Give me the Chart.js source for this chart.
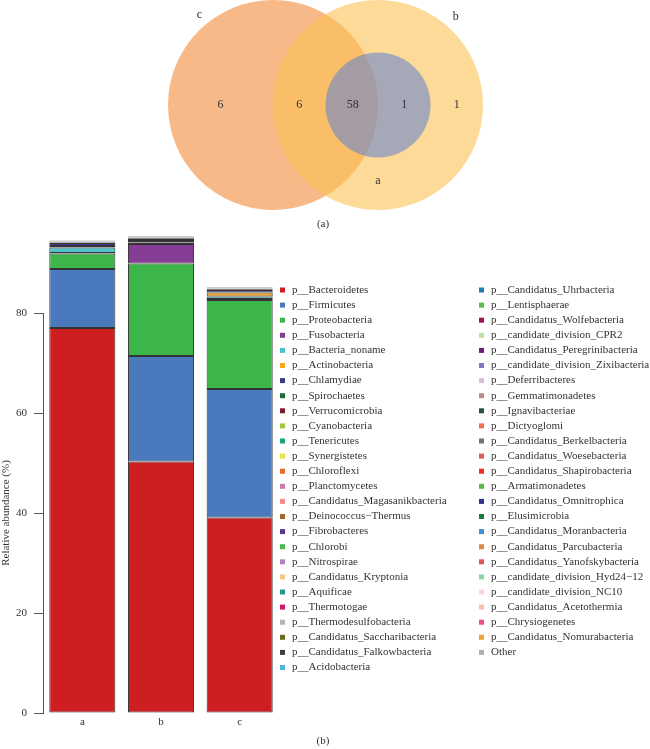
<!DOCTYPE html>
<html>
<head>
<meta charset="utf-8">
<script src="https://cdn.jsdelivr.net/npm/chart.js@4.4.0/dist/chart.umd.min.js"></script>
<style>
  html, body { margin: 0; padding: 0; background: #fff; }
  #wrap { position: relative; width: 650px; height: 749px; overflow: hidden; }
  #venn { position: absolute; left: 0; top: 0; }
  #bars { position: absolute; left: 0; top: 230px; }
  .cap { position: absolute; left: -2px; width: 650px; text-align: center;
         font: 11px "Liberation Serif", serif; color: #333; }
</style>
</head>
<body>
<div id="wrap">
  <canvas id="venn" width="650" height="232"></canvas>
  <canvas id="bars" width="650" height="519"></canvas>
  <div class="cap" style="top:217px">(a)</div>
  <div class="cap" style="top:734px">(b)</div>
</div>
<script>
// ---- Venn data (units = radius of the big circles) ----
const vennSets = ['c', 'b', 'a'];
const setX = [0, 1, 1];
const setY = [0, 0, 0];
const setR = [1, 1, 0.5];
const setLabelX = [-0.7, 1.74, 1.0];
const setLabelY = [0.86, 0.84, -0.72];
const regionCounts = [6, 6, 58, 1, 1];
const regionX = [-0.5, 0.25, 0.76, 1.25, 1.75];
const regionY = [0, 0, 0, 0, 0];
const vennFill = ['rgba(242,138,55,0.6)', 'rgba(252,193,83,0.6)', 'rgba(106,135,202,0.6)'];

// ---- Stacked bar data ----
const samples = ['a', 'b', 'c'];
const phyla = [
  'p__Bacteroidetes', 'p__Firmicutes', 'p__Proteobacteria', 'p__Fusobacteria',
  'p__Bacteria_noname', 'p__Actinobacteria', 'p__Chlamydiae', 'p__Spirochaetes',
  'p__Verrucomicrobia', 'p__Cyanobacteria', 'p__Tenericutes', 'p__Synergistetes',
  'p__Chloroflexi', 'p__Planctomycetes', 'p__Candidatus_Magasanikbacteria',
  'p__Deinococcus\u2212Thermus', 'p__Fibrobacteres', 'p__Chlorobi', 'p__Nitrospirae',
  'p__Candidatus_Kryptonia', 'p__Aquificae', 'p__Thermotogae', 'p__Thermodesulfobacteria',
  'p__Candidatus_Saccharibacteria', 'p__Candidatus_Falkowbacteria', 'p__Acidobacteria',
  'p__Candidatus_Uhrbacteria', 'p__Lentisphaerae', 'p__Candidatus_Wolfebacteria',
  'p__candidate_division_CPR2', 'p__Candidatus_Peregrinibacteria',
  'p__candidate_division_Zixibacteria', 'p__Deferribacteres', 'p__Gemmatimonadetes',
  'p__Ignavibacteriae', 'p__Dictyoglomi', 'p__Candidatus_Berkelbacteria',
  'p__Candidatus_Woesebacteria', 'p__Candidatus_Shapirobacteria', 'p__Armatimonadetes',
  'p__Candidatus_Omnitrophica', 'p__Elusimicrobia', 'p__Candidatus_Moranbacteria',
  'p__Candidatus_Parcubacteria', 'p__Candidatus_Yanofskybacteria',
  'p__candidate_division_Hyd24\u221212', 'p__candidate_division_NC10',
  'p__Candidatus_Acetothermia', 'p__Chrysiogenetes', 'p__Candidatus_Nomurabacteria', 'Other'
];
const phylumColors = [
  '#CE1E22', '#4A7ABD', '#3CB54A', '#863D96', '#4DC4CC', '#F7A823', '#3A3A91', '#1C6B35',
  '#7A1E2C', '#A3C93A', '#1FA27F', '#EDE33B', '#E4692A', '#C97BB0', '#F08B8B', '#A8672A',
  '#5C3596', '#4CB84F', '#B582C2', '#FBC58E', '#1E9A8C', '#D1156E', '#B5B5B5', '#6B6B1E',
  '#3D3D3D', '#4DB3E6',
  '#1F7DB8', '#5BBE46', '#9E1459', '#BDE0A0', '#6A1C7A', '#8278BF', '#D9BEDC', '#BC8A8A',
  '#2B4F4A', '#F46D4F', '#7A6E6E', '#D95F5F', '#EE3124', '#59B947', '#2E3192', '#1B7A3E',
  '#3F8FD2', '#DE8A45', '#E15759', '#8FD3A8', '#F6DAD0', '#F7BFB0', '#EC4F8A', '#F0A22E',
  '#B0B0B0'
];
const sampleA = [
  77.0, 11.8, 3.1, 0.1, 1.1, 0.3, 0.6, 0.1, 0.05, 0.03, 0.03, 0.02, 0.02, 0.02, 0.01, 0.01,
  0.01, 0.01, 0.01, 0.01, 0.01, 0.01, 0.01, 0.01, 0.01, 0.01,
  0.01, 0.01, 0.01, 0.01, 0.01, 0.01, 0.01, 0.01, 0.01, 0, 0, 0, 0, 0, 0, 0,
  0, 0, 0, 0, 0, 0, 0, 0, 0.02
];
const sampleB = [
  50.3, 21.1, 18.5, 3.9, 0.3, 0.3, 0.4, 0.15, 0.1, 0.03, 0.03, 0.02, 0.02, 0.02, 0.01, 0.01,
  0.01, 0.01, 0.01, 0.01, 0.01, 0.01, 0.01, 0.01, 0.01, 0.01,
  0.01, 0.01, 0.01, 0.01, 0.01, 0.01, 0.01, 0.01, 0.01, 0, 0, 0, 0, 0, 0, 0,
  0, 0, 0, 0, 0, 0, 0, 0, 0.02
];
const sampleC = [
  39.1, 25.7, 17.8, 0.2, 0.5, 0.8, 0.5, 0.15, 0.1, 0.04, 0.03, 0.02, 0.02, 0.02, 0.01, 0.01,
  0.01, 0.01, 0.01, 0.01, 0.01, 0.01, 0.01, 0.01, 0.01, 0.01,
  0.01, 0.01, 0.01, 0.01, 0.01, 0.01, 0.01, 0.01, 0.01, 0, 0, 0, 0, 0, 0, 0,
  0, 0, 0, 0, 0, 0, 0, 0, 0.02
];

const serif = 'Liberation Serif';

// Venn circles, counts and set names, all placed through the chart scales
const vennPlugin = {
  id: 'vennPlugin',
  beforeDatasetsDraw(chart) {
    const { ctx, scales: { x, y } } = chart;
    ctx.save();
    vennSets.forEach((s, i) => {
      const cx = x.getPixelForValue(setX[i]);
      const cy = y.getPixelForValue(setY[i]);
      const r = x.getPixelForValue(setX[i] + setR[i]) - cx;
      ctx.beginPath();
      ctx.arc(cx, cy, r, 0, Math.PI * 2);
      ctx.fillStyle = vennFill[i];
      ctx.fill();
    });
    ctx.restore();
  },
  afterDatasetsDraw(chart) {
    const { ctx, scales: { x, y } } = chart;
    ctx.save();
    ctx.font = '12px "' + serif + '"';
    ctx.fillStyle = '#333';
    ctx.textAlign = 'center';
    ctx.textBaseline = 'middle';
    regionCounts.forEach((n, i) => {
      ctx.fillText(String(n), x.getPixelForValue(regionX[i]), y.getPixelForValue(regionY[i]));
    });
    vennSets.forEach((s, i) => {
      ctx.fillText(s, x.getPixelForValue(setLabelX[i]), y.getPixelForValue(setLabelY[i]));
    });
    ctx.restore();
  }
};

new Chart(document.getElementById('venn'), {
  type: 'scatter',
  data: {
    datasets: [{
      data: vennSets.map((s, i) => ({ x: setX[i], y: setY[i] })),
      pointRadius: 0
    }]
  },
  options: {
    responsive: false,
    animation: false,
    events: [],
    layout: { padding: 0, autoPadding: false },
    plugins: { legend: { display: false }, tooltip: { enabled: false } },
    scales: {
      x: { type: 'linear', display: false, min: -2.6, max: 3.5905 },
      y: { type: 'linear', display: false, min: -1.2095, max: 1.0 }
    }
  },
  plugins: [vennPlugin]
});

// two-column legend on the right of the bars
const sideLegend = {
  id: 'sideLegend',
  afterDraw(chart) {
    const ctx = chart.ctx;
    ctx.save();
    ctx.font = '11px "' + serif + '"';
    ctx.textBaseline = 'middle';
    ctx.textAlign = 'left';
    chart.data.datasets.forEach((ds, i) => {
      const col = i < 26 ? 0 : 1;
      const row = col ? i - 26 : i;
      const bx = col ? 479 : 280;
      const cy = 60 + row * 15.1;
      ctx.fillStyle = ds.backgroundColor;
      ctx.fillRect(bx, cy - 2.5, 5, 5);
      ctx.fillStyle = '#333';
      ctx.fillText(ds.label, bx + 12, cy);
    });
    ctx.restore();
  }
};

const datasets = phyla.map((name, i) => ({
  label: name,
  data: [sampleA[i], sampleB[i], sampleC[i]],
  backgroundColor: phylumColors[i],
  borderColor: '#333',
  borderWidth: 1,
  borderSkipped: false,
  clip: false,
  barPercentage: 0.84,
  categoryPercentage: 1
}));

new Chart(document.getElementById('bars'), {
  type: 'bar',
  data: { labels: samples, datasets: datasets },
  options: {
    responsive: false,
    animation: false,
    events: [],
    layout: { padding: { top: 83, right: 371, bottom: 16, left: 0 } },
    plugins: { legend: { display: false }, tooltip: { enabled: false } },
    scales: {
      x: {
        stacked: true,
        grid: { display: false, drawTicks: false },
        border: { display: false },
        ticks: { color: '#333', font: { family: serif, size: 11 }, padding: 3 },
        afterFit: s => { s.height = 20; }
      },
      y: {
        stacked: true,
        min: 0,
        max: 80,
        ticks: { stepSize: 20, color: '#333', font: { family: serif, size: 11 }, padding: 7 },
        grid: { drawOnChartArea: false, tickLength: 9, color: '#555' },
        border: { color: '#555' },
        title: {
          display: true,
          text: 'Relative abundance (%)',
          color: '#333',
          font: { family: serif, size: 11 },
          padding: 0
        },
        afterFit: s => { s.width = 43; }
      }
    }
  },
  plugins: [sideLegend]
});
</script>
</body>
</html>
